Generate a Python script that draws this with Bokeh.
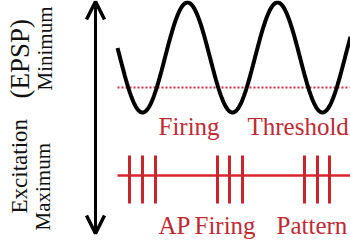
import numpy as np
from bokeh.plotting import figure
from bokeh.models import Range1d, Arrow, OpenHead
from bokeh.core.properties import value
from bokeh.embed import file_html
from bokeh.resources import INLINE

# --- data (reference pixel frame, y downwards) ---
wave_extrema_x = [97, 142, 187, 232, 277, 322, 367]   # peaks / troughs of EPSP wave
wave_extrema_y = [2, 112, 2, 112, 2, 112, 2]
wave_span = [117, 350]
threshold_level = 87
spike_times = [129, 142, 155, 217, 229, 242, 304, 317, 329]
spike_top, spike_bottom = 155, 203
train_level = 175
arrow_x, arrow_top, arrow_bottom = 95, 1, 233

labels_h = ["Firing", "Threshold", "AP", "Firing", "Pattern"]
labels_h_x = [158, 247, 158, 194, 276]
labels_h_y = [126, 126, 225, 225, 225]

labels_v = ["Excitation", "(EPSP)", "Minimum", "Maximum"]
labels_v_x = [19, 19, 44, 42]
labels_v_y = [213, 98, 90, 230]
labels_v_size = ["23px", "27px", "21px", "21px"]

# --- build wave curve by cosine easing between read extrema ---
xs = np.linspace(wave_span[0], wave_span[1], 500)
ys = np.empty_like(xs)
ex = np.array(wave_extrema_x, float)
ey = np.array(wave_extrema_y, float)
for i, x in enumerate(xs):
    k = np.searchsorted(ex, x) - 1
    k = min(max(k, 0), len(ex) - 2)
    f = (x - ex[k]) / (ex[k + 1] - ex[k])
    ys[i] = ey[k] + (ey[k + 1] - ey[k]) * (1 - np.cos(np.pi * f)) / 2

p = figure(width=350, height=243, x_range=Range1d(0, 350), y_range=Range1d(243, 0),
           output_backend="svg", toolbar_location=None, min_border=0,
           x_axis_location=None, y_axis_location=None)
p.grid.visible = False
p.outline_line_color = None
p.background_fill_color = "white"
p.border_fill_color = "white"

RED = "#c8262e"
TEXT_RED = "#bf2a33"

# threshold dotted line
p.line(wave_span, [threshold_level, threshold_level], line_color="#d0304a",
       line_width=2, line_dash="2 2")
# wave
p.line(xs, ys, line_color="black", line_width=4)

# spike train
p.line(wave_span, [train_level, train_level], line_color="#d8262c", line_width=2.5)
p.segment(x0=spike_times, x1=spike_times, y0=[spike_top] * len(spike_times),
          y1=[spike_bottom] * len(spike_times), line_color=RED, line_width=3)

# double arrow
p.add_layout(Arrow(x_start=arrow_x, y_start=arrow_bottom, x_end=arrow_x, y_end=arrow_top,
                   line_width=3, line_color="black",
                   start=OpenHead(size=18, line_width=3.5, line_color="black"),
                   end=OpenHead(size=18, line_width=3.5, line_color="black")))

# horizontal labels
p.text(x=labels_h_x, y=labels_h_y, text=labels_h, text_color=TEXT_RED,
       text_font=value("Liberation Serif"), text_font_size="25px",
       text_align="left", text_baseline="alphabetic")

# vertical labels
for t, x, y, s in zip(labels_v, labels_v_x, labels_v_y, labels_v_size):
    p.text(x=[x], y=[y], text=[t], angle=np.pi / 2, text_color="#111111",
           text_font=value("Liberation Serif"), text_font_size=s,
           text_align="left", text_baseline="alphabetic")

open("out.html", "w").write(file_html(p, INLINE))
